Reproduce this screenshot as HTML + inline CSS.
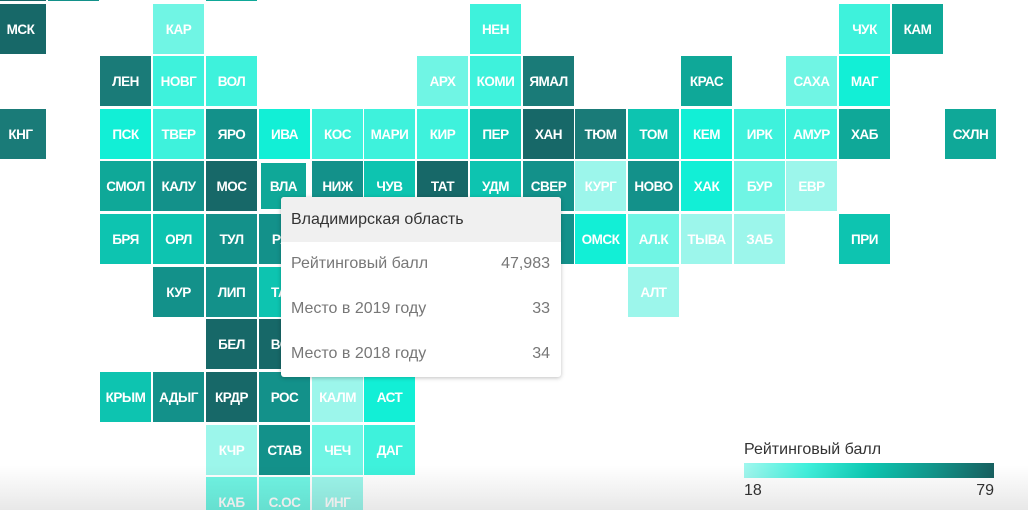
<!DOCTYPE html>
<html><head><meta charset="utf-8"><style>
html,body{margin:0;padding:0;background:#fff;width:1028px;height:510px;overflow:hidden;position:relative;font-family:"Liberation Sans",sans-serif}
.t{position:absolute;width:51px;height:50px;color:#fff;font-size:13.5px;font-weight:bold;letter-spacing:-0.5px;display:flex;align-items:center;justify-content:center}
.a{background:#176868}.b{background:#1a7b78}.c{background:#13918a}.d{background:#0fa898}.e{background:#0dc4b0}.f{background:#12efd6}.g{background:#3ef2dc}.h{background:#70f5e4}.i{background:#9cf6eb}
.tip{position:absolute;left:281px;top:197px;width:280px;height:180px;background:#fff;border-radius:3px;box-shadow:0 1px 4px rgba(0,0,0,0.25);font-size:16px}
.tip .hd{height:45px;background:#f0f0f0;color:#333;padding-left:10px;line-height:45px;border-radius:3px 3px 0 0}
.tip .r{position:absolute;left:10px;right:11px;color:#777;display:flex;justify-content:space-between}
.fade{position:absolute;left:0;top:465px;width:1028px;height:45px;background:linear-gradient(to bottom,rgba(0,0,0,0),rgba(0,0,0,0.09))}
</style></head><body>
<div class="t a" style="left:-5px;top:-49px"></div>
<div class="t c" style="left:48px;top:-49px"></div>
<div class="t d" style="left:206px;top:-49px"></div>

<div class="t a" style="left:-5px;top:4px">МСК</div>
<div class="t h" style="left:153px;top:4px">КАР</div>
<div class="t g" style="left:470px;top:4px">НЕН</div>
<div class="t g" style="left:839px;top:4px">ЧУК</div>
<div class="t d" style="left:892px;top:4px">КАМ</div>

<div class="t b" style="left:100px;top:56px">ЛЕН</div>
<div class="t g" style="left:153px;top:56px">НОВГ</div>
<div class="t g" style="left:206px;top:56px">ВОЛ</div>
<div class="t h" style="left:417px;top:56px">АРХ</div>
<div class="t g" style="left:470px;top:56px">КОМИ</div>
<div class="t b" style="left:523px;top:56px">ЯМАЛ</div>
<div class="t d" style="left:681px;top:56px">КРАС</div>
<div class="t h" style="left:786px;top:56px">САХА</div>
<div class="t f" style="left:839px;top:56px">МАГ</div>

<div class="t b" style="left:-5px;top:109px">КНГ</div>
<div class="t f" style="left:100px;top:109px">ПСК</div>
<div class="t g" style="left:153px;top:109px">ТВЕР</div>
<div class="t c" style="left:206px;top:109px">ЯРО</div>
<div class="t f" style="left:259px;top:109px">ИВА</div>
<div class="t g" style="left:312px;top:109px">КОС</div>
<div class="t g" style="left:364px;top:109px">МАРИ</div>
<div class="t g" style="left:417px;top:109px">КИР</div>
<div class="t e" style="left:470px;top:109px">ПЕР</div>
<div class="t a" style="left:523px;top:109px">ХАН</div>
<div class="t b" style="left:575px;top:109px">ТЮМ</div>
<div class="t e" style="left:628px;top:109px">ТОМ</div>
<div class="t f" style="left:681px;top:109px">КЕМ</div>
<div class="t g" style="left:734px;top:109px">ИРК</div>
<div class="t g" style="left:786px;top:109px">АМУР</div>
<div class="t d" style="left:839px;top:109px">ХАБ</div>
<div class="t d" style="left:945px;top:109px">СХЛН</div>

<div class="t d" style="left:100px;top:161px">СМОЛ</div>
<div class="t c" style="left:153px;top:161px">КАЛУ</div>
<div class="t a" style="left:206px;top:161px">МОС</div>
<div class="t d" style="left:261px;top:163px;width:45px;height:46px;outline:2px solid #fff">ВЛА</div>
<div class="t c" style="left:312px;top:161px">НИЖ</div>
<div class="t e" style="left:364px;top:161px">ЧУВ</div>
<div class="t a" style="left:417px;top:161px">ТАТ</div>
<div class="t e" style="left:470px;top:161px">УДМ</div>
<div class="t c" style="left:523px;top:161px">СВЕР</div>
<div class="t i" style="left:575px;top:161px">КУРГ</div>
<div class="t c" style="left:628px;top:161px">НОВО</div>
<div class="t f" style="left:681px;top:161px">ХАК</div>
<div class="t h" style="left:734px;top:161px">БУР</div>
<div class="t i" style="left:786px;top:161px">ЕВР</div>

<div class="t e" style="left:100px;top:214px">БРЯ</div>
<div class="t e" style="left:153px;top:214px">ОРЛ</div>
<div class="t c" style="left:206px;top:214px">ТУЛ</div>
<div class="t c" style="left:259px;top:214px">РЯЗ</div>
<div class="t c" style="left:523px;top:214px"></div>
<div class="t f" style="left:575px;top:214px">ОМСК</div>
<div class="t h" style="left:628px;top:214px">АЛ.К</div>
<div class="t i" style="left:681px;top:214px">ТЫВА</div>
<div class="t i" style="left:734px;top:214px">ЗАБ</div>
<div class="t e" style="left:839px;top:214px">ПРИ</div>

<div class="t c" style="left:153px;top:267px">КУР</div>
<div class="t c" style="left:206px;top:267px">ЛИП</div>
<div class="t e" style="left:259px;top:267px">ТАМ</div>
<div class="t i" style="left:628px;top:267px">АЛТ</div>

<div class="t a" style="left:206px;top:319px">БЕЛ</div>
<div class="t a" style="left:259px;top:319px">ВОР</div>

<div class="t e" style="left:100px;top:372px">КРЫМ</div>
<div class="t c" style="left:153px;top:372px">АДЫГ</div>
<div class="t a" style="left:206px;top:372px">КРДР</div>
<div class="t c" style="left:259px;top:372px">РОС</div>
<div class="t i" style="left:312px;top:372px">КАЛМ</div>
<div class="t f" style="left:364px;top:372px">АСТ</div>

<div class="t i" style="left:206px;top:425px">КЧР</div>
<div class="t c" style="left:259px;top:425px">СТАВ</div>
<div class="t h" style="left:312px;top:425px">ЧЕЧ</div>
<div class="t g" style="left:364px;top:425px">ДАГ</div>

<div class="t h" style="left:206px;top:477px">КАБ</div>
<div class="t h" style="left:259px;top:477px">С.ОС</div>
<div class="t i" style="left:312px;top:477px">ИНГ</div>

<div class="tip">
<div class="hd">Владимирская область</div>
<div class="r" style="top:58px"><span>Рейтинговый балл</span><span>47,983</span></div>
<div class="r" style="top:103px"><span>Место в 2019 году</span><span>33</span></div>
<div class="r" style="top:148px"><span>Место в 2018 году</span><span>34</span></div>
</div>

<div style="position:absolute;left:744px;top:441px;font-size:16px;color:#333">Рейтинговый балл</div>
<div style="position:absolute;left:744px;top:463px;width:250px;height:15px;background:linear-gradient(to right,#a0f7ee,#40f0dc 25%,#0dc8b2 50%,#11978c 75%,#176060)"></div>
<div style="position:absolute;left:744px;top:482px;font-size:16px;color:#333">18</div>
<div style="position:absolute;left:960px;top:482px;width:34px;text-align:right;font-size:16px;color:#333">79</div>

<div class="fade"></div>
</body></html>
